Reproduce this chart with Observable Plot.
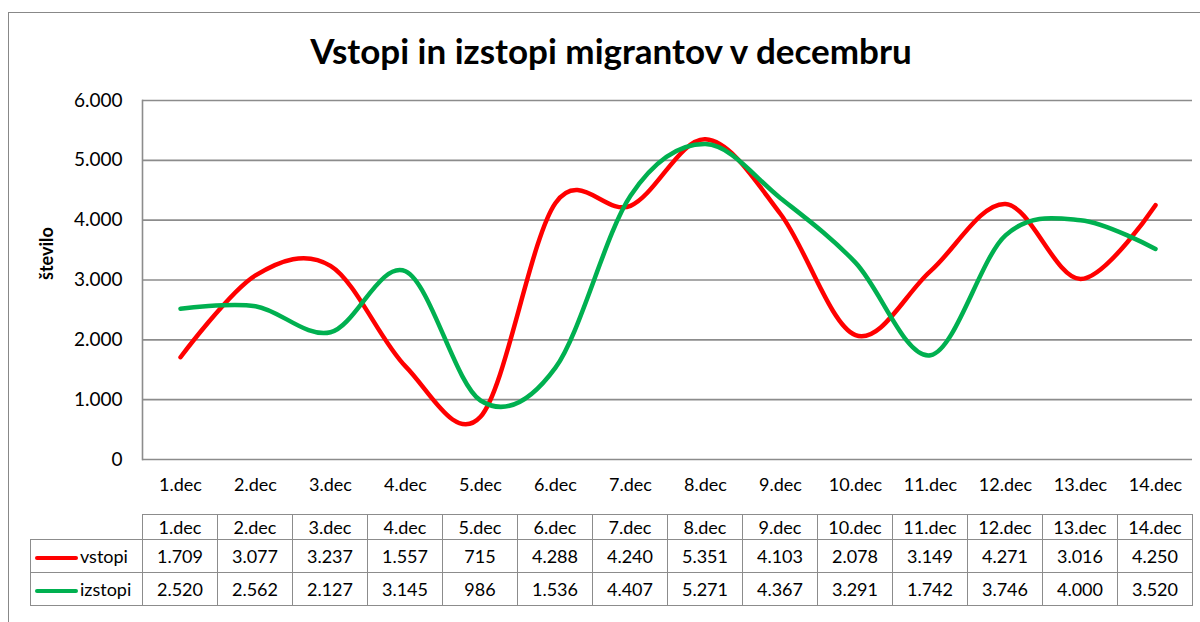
<!DOCTYPE html>
<html><head><meta charset="utf-8">
<script src="https://cdn.jsdelivr.net/npm/d3@7"></script>
<script src="https://cdn.jsdelivr.net/npm/@observablehq/plot@0.6"></script>
<style>
body{margin:0;background:#fff;font-family:Lato,"Noto Sans",sans-serif;}
#wrap{position:relative;width:1200px;height:622px;overflow:hidden;}
#border{position:absolute;left:8px;top:12px;width:1300px;height:800px;border:1px solid #888;box-sizing:border-box;}
#title{position:absolute;left:0;width:1222px;top:29px;text-align:center;font-weight:bold;font-size:35px;color:#000;}
#chart{position:absolute;left:0;top:0;}
#tbl{position:absolute;border-collapse:collapse;font-size:18px;color:#000;}
#tbl td{border:1.5px solid #8c8c8c;text-align:center;padding:0;}
#tbl td.blank{border:none;}
#tbl td.lab{text-align:left;padding-left:4px;white-space:nowrap;}
.sw{display:inline-block;width:43px;height:4px;border-radius:2px;vertical-align:middle;margin-right:2px;}
</style></head>
<body><div id="wrap"><div id="border"></div><div id="chart"></div><div id="title">Vstopi in izstopi migrantov v decembru</div></div>
<script>
const days = ["1.dec","2.dec","3.dec","4.dec","5.dec","6.dec","7.dec","8.dec","9.dec","10.dec","11.dec","12.dec","13.dec","14.dec"];
const vstopi = [1709,3077,3237,1557,715,4288,4240,5351,4103,2078,3149,4271,3016,4250];
const izstopi = [2520,2562,2127,3145,986,1536,4407,5271,4367,3291,1742,3746,4000,3520];
const yTicks = [0,1000,2000,3000,4000,5000,6000];
const seriesNames = ["vstopi","izstopi"];
const seriesColors = ["#ff0000","#00b050"];

const fmt = v => d3.format(",")(v).replace(/,/g,".");
const rows = [];
days.forEach((d,i)=>{rows.push({day:d,value:vstopi[i],s:"vstopi"});});
days.forEach((d,i)=>{rows.push({day:d,value:izstopi[i],s:"izstopi"});});

const chart = Plot.plot({
  width:1200, height:500,
  marginLeft:142, marginRight:8, marginTop:100, marginBottom:41,
  style:{fontFamily:"Lato, 'Noto Sans', sans-serif", fontSize:"18px", color:"#000", background:"transparent"},
  x:{type:"point", domain:days, padding:0.5},
  y:{domain:[0,6000]},
  color:{domain:seriesNames, range:seriesColors},
  marks:[
    Plot.gridY(yTicks,{stroke:"#8c8c8c", strokeOpacity:1, strokeWidth:1.6}),
    Plot.frame({anchor:"left", stroke:"#8c8c8c", strokeWidth:1.6}),
    Plot.axisY({ticks:yTicks, tickSize:0, tickPadding:20, tickFormat:fmt, label:null, fontSize:19}),
    Plot.axisX({tickSize:0, tickPadding:19, label:null, fontSize:18}),
    Plot.text(["število"],{frameAnchor:"left", dx:-95, rotate:-90, fontWeight:"bold", fontSize:18}),
    Plot.line(rows,{x:"day", y:"value", z:"s", stroke:"s", strokeWidth:4.5, curve:"cardinal", strokeLinecap:"round", strokeLinejoin:"round"})
  ]
});
document.getElementById("chart").appendChild(chart);

// data table aligned with the chart's x scale
const xs = chart.scale("x");
const left = xs.range[0], right = xs.range[1];
const colW = (right-left)/days.length;
const legendLeft = 30;
const tbl = document.createElement("table");
tbl.id = "tbl";
tbl.style.left = legendLeft + "px";
tbl.style.top = "514px";
tbl.style.width = (right-legendLeft) + "px";
tbl.style.tableLayout = "fixed";
const cg = document.createElement("colgroup");
const c0 = document.createElement("col"); c0.style.width = (left-legendLeft)+"px"; cg.appendChild(c0);
days.forEach(()=>{const c=document.createElement("col"); c.style.width=colW+"px"; cg.appendChild(c);});
tbl.appendChild(cg);
const hr = document.createElement("tr"); hr.style.height="25px";
const blank = document.createElement("td"); blank.className="blank"; hr.appendChild(blank);
days.forEach(d=>{const td=document.createElement("td"); td.textContent=d; hr.appendChild(td);});
tbl.appendChild(hr);
[vstopi,izstopi].forEach((arr,k)=>{
  const tr=document.createElement("tr"); tr.style.height="33px";
  const lab=document.createElement("td"); lab.className="lab";
  lab.innerHTML='<span class="sw" style="background:'+seriesColors[k]+'"></span>'+seriesNames[k];
  tr.appendChild(lab);
  arr.forEach(v=>{const td=document.createElement("td"); td.textContent=fmt(v); tr.appendChild(td);});
  tbl.appendChild(tr);
});
document.getElementById("wrap").appendChild(tbl);
</script>
</body></html>
